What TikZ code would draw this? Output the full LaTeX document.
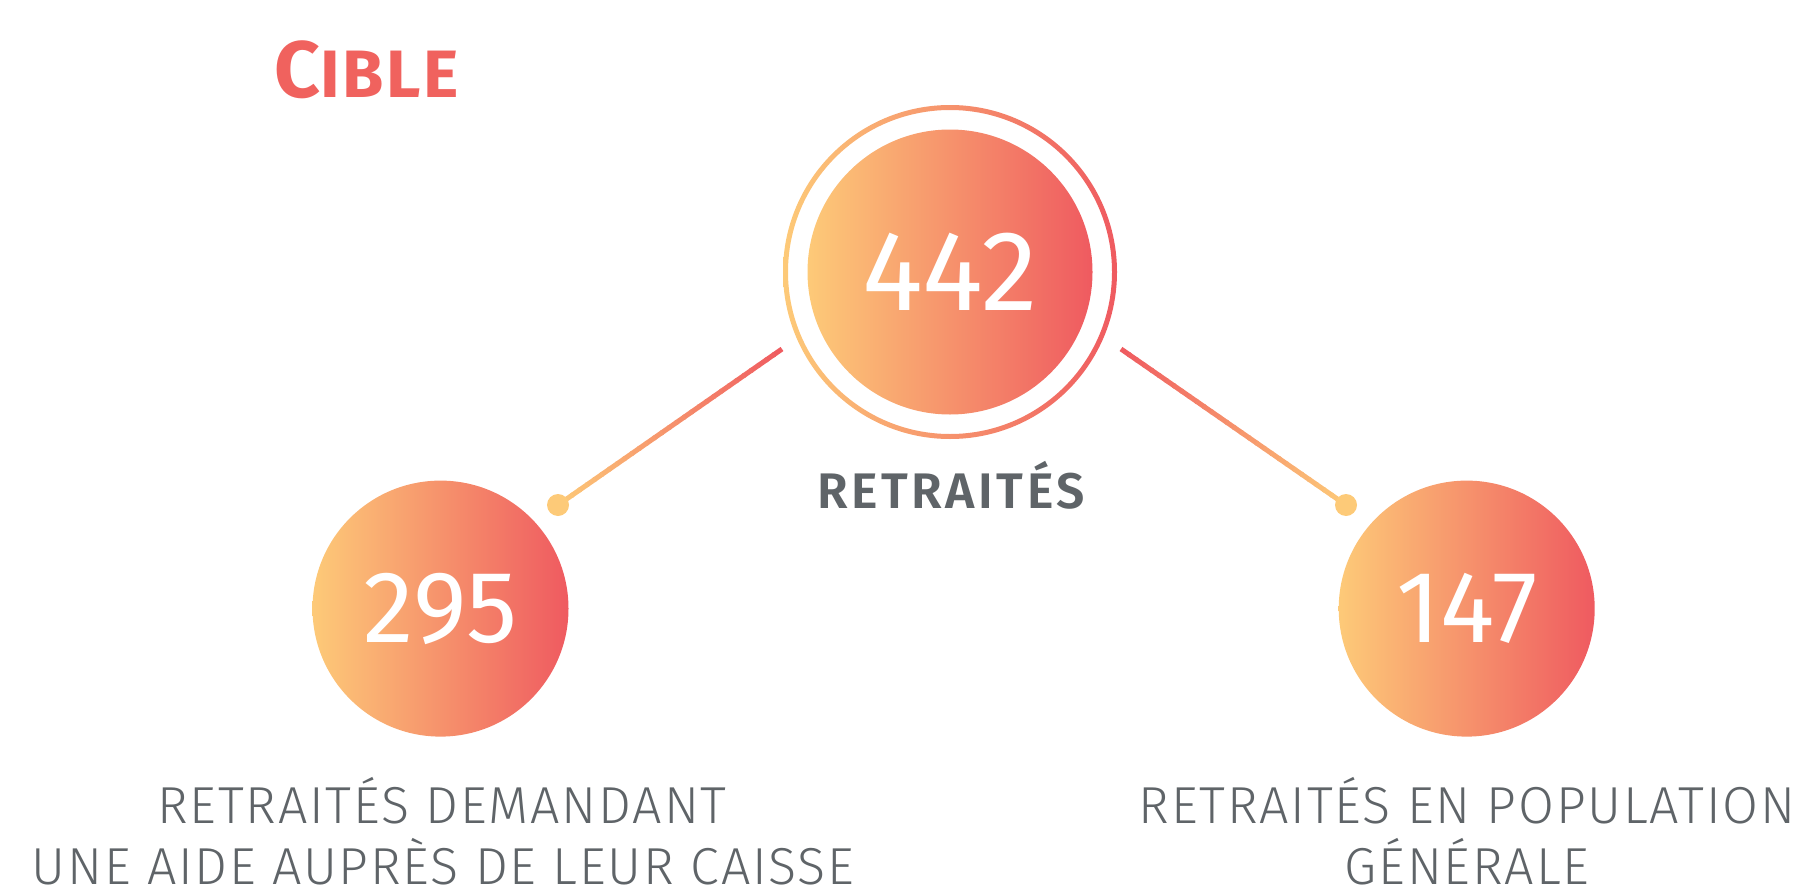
\documentclass[tikz,border=0pt]{standalone}
\usepackage{fontspec}
\usetikzlibrary{calc}
\setmainfont{Fira Sans}
\newcommand\pickface[2]{\IfFontExistsTF{#2}{\def#1{#2}}{\def#1{Fira Sans}}}
\pickface\lightname{Fira Sans Light}
\pickface\bookname{Fira Sans Book}
\pickface\seminame{Fira Sans SemiBold}
\pickface\boldname{Fira Sans Bold}
\newfontfamily\numfont{\bookname}
\newfontfamily\capsfont[LetterSpace=3.5]{\lightname}
\newfontfamily\headfont[LetterSpace=7]{\seminame}
\newfontfamily\titlefont[LetterSpace=4]{\boldname}
\definecolor{MyYellow}{HTML}{FDCA78}
\definecolor{MyRed}{HTML}{EF5A60}
\definecolor{MyTitle}{HTML}{F0625E}
\definecolor{MyGray}{HTML}{5F6468}
\tikzset{
	bubble/.style={circle, inner sep=0pt, left color=MyYellow, right color=MyRed, text=white},
	labeltxt/.style={anchor=base, inner sep=0pt, text=MyGray, font=\capsfont\fontsize{52}{52}\selectfont}
}

\begin{document}
\begin{tikzpicture}[x=1pt, y=-1pt]
		\useasboundingbox (0,0) rectangle (1794,891);
		
		% titre
		\node[anchor=base west, inner sep=0pt, text=MyTitle] (title) at (274,97) {\titlefont\fontsize{80}{80}\selectfont C\fontsize{67}{67}\selectfont IBLE};
		
		% grand cercle
		\coordinate (C) at (950,272);
		\path[left color=MyYellow, right color=MyRed, even odd rule] (C) circle (167pt) circle (162pt);
		\node[bubble, minimum size=285pt] (total) at (C) {\numfont\fontsize{114}{114}\selectfont 442};
		\node[anchor=base, inner sep=0pt, text=MyGray] (totallabel) at (951,508) {\headfont\fontsize{50}{50}\selectfont RETRAITÉS};
		
		% liaisons
		\coordinate (L0) at (782,349);
		\coordinate (L1) at (558,505);
		\coordinate (R0) at (1121,349);
		\coordinate (R1) at (1346,505);
		
		\foreach \a/\b in {L0/L1, R0/R1}{
			\foreach \i in {0,...,29}{
				\pgfmathsetmacro\s{\i/30}
				\pgfmathsetmacro\e{(\i+1.2)/30}
				\pgfmathsetmacro\p{100-100*(\i+0.5)/30}
				\draw[line width=5pt, MyRed!\p!MyYellow] ($(\a)!\s!(\b)$) -- ($(\a)!\e!(\b)$);
			}
			\fill[MyYellow] (\b) circle (11pt);
		}
		
		% petits cercles
		\node[bubble, minimum size=256pt] (ask) at (440.5,608.6) {\numfont\fontsize{102}{102}\selectfont 295};
		\node[bubble, minimum size=256pt] (pop) at (1466.7,608.6) {\numfont\fontsize{102}{102}\selectfont 147};
		
		\node[labeltxt] (ask1) at (442,823) {RETRAITÉS DEMANDANT};
		\node[labeltxt] (ask2) at (443,884) {UNE AIDE AUPRÈS DE LEUR CAISSE};
		\node[labeltxt] (pop1) at (1467,823) {RETRAITÉS EN POPULATION};
		\node[labeltxt] (pop2) at (1467,884) {GÉNÉRALE};
		
	\end{tikzpicture}
\end{document}
